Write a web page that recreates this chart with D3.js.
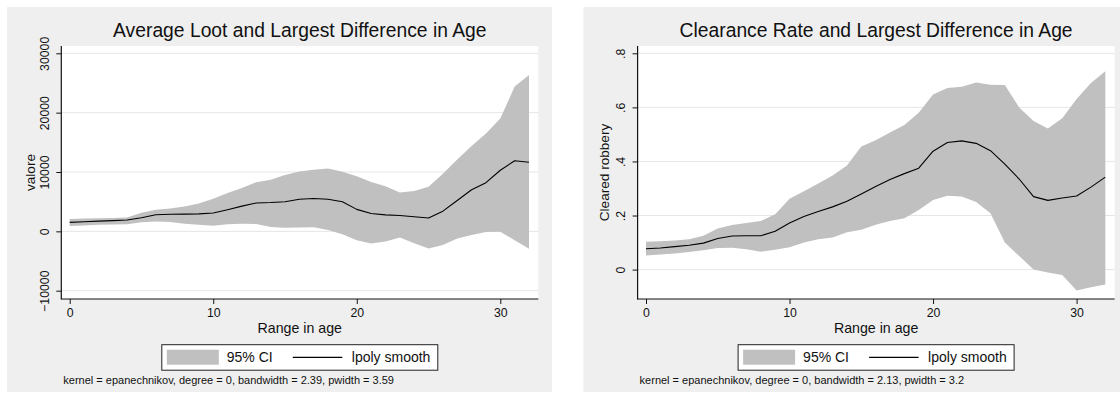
<!DOCTYPE html>
<html>
<head>
<meta charset="utf-8">
<script src="https://cdn.jsdelivr.net/npm/d3@7/dist/d3.min.js"></script>
<style>
  html, body { margin: 0; padding: 0; background: #ffffff; }
  svg { display: block; }
  text { font-family: "Liberation Sans", Arial, Helvetica, sans-serif; fill: #111; }
</style>
</head>
<body>
<svg id="chart" width="1120" height="401"></svg>
<script>
// Evaluation grid of the local polynomial smooth (age range, years)
const ageGrid = [0, 1, 2, 3, 4, 5, 6, 7, 8, 9, 10, 11, 12, 13, 14, 15, 16,
                 17, 18, 19, 20, 21, 22, 23, 24, 25, 26, 27, 28, 29, 30, 31, 32];

// Average loot (valore): smooth and 95% confidence band
const lootSmooth = [1520, 1620, 1720, 1800, 1920, 2300, 2800, 2880, 2900, 2950, 3080,
                    3650, 4250, 4780, 4860, 5000, 5400, 5540, 5420, 5000, 3700,
                    3000, 2780, 2680, 2450, 2250, 3400, 5200, 7000, 8200, 10300, 11900, 11650];
const lootUpper  = [2090, 2150, 2200, 2260, 2330, 3150, 3650, 3870, 4200, 4700, 5500,
                    6450, 7300, 8280, 8700, 9500, 10100, 10400, 10600, 10050, 9300,
                    8300, 7600, 6550, 6800, 7500, 9700, 12100, 14400, 16500, 19000, 24400, 26330];
const lootLower  = [900, 1000, 1100, 1150, 1200, 1530, 1650, 1560, 1300, 1100, 960,
                    1190, 1300, 1250, 750, 620, 640, 680, 230, -500, -1500,
                    -2030, -1700, -1050, -2000, -2900, -2300, -1200, -600, -130, -50, -1500, -2940];

// Clearance rate (cleared robbery): smooth and 95% confidence band
const clearSmooth = [0.077, 0.080, 0.085, 0.090, 0.098, 0.115, 0.124, 0.125, 0.125, 0.142, 0.172,
                     0.196, 0.215, 0.232, 0.253, 0.280, 0.307, 0.333, 0.355, 0.375, 0.438,
                     0.470, 0.476, 0.467, 0.440, 0.390, 0.335, 0.270, 0.256, 0.265, 0.272, 0.305, 0.342];
const clearUpper  = [0.103, 0.105, 0.108, 0.112, 0.125, 0.152, 0.165, 0.172, 0.180, 0.205, 0.262,
                     0.290, 0.318, 0.348, 0.385, 0.455, 0.478, 0.507, 0.535, 0.580, 0.648,
                     0.672, 0.676, 0.692, 0.684, 0.683, 0.600, 0.550, 0.522, 0.560, 0.631, 0.690, 0.734];
const clearLower  = [0.052, 0.056, 0.060, 0.065, 0.072, 0.080, 0.081, 0.075, 0.066, 0.073, 0.083,
                     0.100, 0.112, 0.119, 0.138, 0.147, 0.166, 0.180, 0.190, 0.220, 0.257,
                     0.273, 0.270, 0.250, 0.208, 0.100, 0.050, 0.000, -0.011, -0.020, -0.077, -0.065, -0.055];

// Axis ticks and labels
const ageTicks = [0, 10, 20, 30];
const lootTicks = [-10000, 0, 10000, 20000, 30000];
const lootTickLabels = ["\u221210000", "0", "10000", "20000", "30000"];
const clearTicks = [0, 0.2, 0.4, 0.6, 0.8];
const clearTickLabels = ["0", ".2", ".4", ".6", ".8"];

// Legend entries
const legendLabels = ["95% CI", "lpoly smooth"];

const panels = [
  {
    left: 7,
    title: "Average Loot and Largest Difference in Age",
    yTitle: "valore",
    smooth: lootSmooth, upper: lootUpper, lower: lootLower,
    yTicks: lootTicks, yTickLabels: lootTickLabels,
    yDomain: [-10000, 30000], yRange: [290.7, 53.3],
    note: "kernel = epanechnikov, degree = 0, bandwidth = 2.39, pwidth = 3.59",
    yTitleOffset: 31
  },
  {
    left: 583.3,
    title: "Clearance Rate and Largest Difference in Age",
    yTitle: "Cleared robbery",
    smooth: clearSmooth, upper: clearUpper, lower: clearLower,
    yTicks: clearTicks, yTickLabels: clearTickLabels,
    yDomain: [0, 0.8], yRange: [269.6, 53.3],
    note: "kernel = epanechnikov, degree = 0, bandwidth = 2.13, pwidth = 3.2",
    yTitleOffset: 33
  }
];

const svg = d3.select("#chart");
const BAND = "#c0c0c0";
const PANEL_BG = "#efefef";
const GRID = "#e6e6e6";

panels.forEach(p => {
  const g = svg.append("g").attr("transform", `translate(${p.left},0)`);

  // panel geometry (local to the panel)
  const panelW = 545, panelTop = 7, panelH = 385;
  const plotL = 54.3, plotR = 531.3, plotT = 46, plotB = 299;

  g.append("rect")
    .attr("x", 0).attr("y", panelTop)
    .attr("width", panelW).attr("height", panelH)
    .attr("fill", PANEL_BG);

  g.append("rect")
    .attr("x", plotL).attr("y", plotT)
    .attr("width", plotR - plotL).attr("height", plotB - plotT)
    .attr("fill", "#ffffff");

  const x = d3.scaleLinear().domain([0, 30]).range([62.7, 493.3]);
  const y = d3.scaleLinear().domain(p.yDomain).range(p.yRange);

  // horizontal grid lines
  g.append("g")
    .selectAll("line")
    .data(p.yTicks)
    .join("line")
    .attr("x1", plotL).attr("x2", plotR)
    .attr("y1", d => y(d)).attr("y2", d => y(d))
    .attr("stroke", GRID).attr("stroke-width", 1);

  // confidence band
  const rows = ageGrid.map((a, i) => ({ a, s: p.smooth[i], hi: p.upper[i], lo: p.lower[i] }));
  g.append("path")
    .datum(rows)
    .attr("d", d3.area().x(d => x(d.a)).y0(d => y(d.lo)).y1(d => y(d.hi)))
    .attr("fill", BAND);

  // smooth
  g.append("path")
    .datum(rows)
    .attr("d", d3.line().x(d => x(d.a)).y(d => y(d.s)))
    .attr("fill", "none")
    .attr("stroke", "#000")
    .attr("stroke-width", 1.1)
    .attr("stroke-linejoin", "round");

  // y axis
  const yAxis = g.append("g")
    .attr("transform", `translate(${plotL},0)`)
    .call(d3.axisLeft(y).tickValues(p.yTicks).tickSize(5).tickSizeOuter(0)
      .tickFormat((d, i) => p.yTickLabels[i]));
  yAxis.select(".domain").remove();
  yAxis.selectAll(".tick line").attr("stroke", "#111");
  yAxis.selectAll(".tick text")
    .attr("transform", "rotate(-90)")
    .attr("x", 0).attr("y", -12.8).attr("dy", 0)
    .attr("text-anchor", "middle")
    .style("font-size", "12.3px")
    .style("font-family", "'Liberation Sans', Arial, sans-serif")
    .attr("fill", "#111");

  // x axis
  const xAxis = g.append("g")
    .attr("transform", `translate(0,${plotB})`)
    .call(d3.axisBottom(x).tickValues(ageTicks).tickSize(5).tickSizeOuter(0));
  xAxis.select(".domain").remove();
  xAxis.selectAll(".tick line").attr("stroke", "#111");
  xAxis.selectAll(".tick text")
    .attr("y", 18.3).attr("dy", 0)
    .style("font-size", "12.3px")
    .style("font-family", "'Liberation Sans', Arial, sans-serif")
    .attr("fill", "#111");

  // axis lines
  g.append("line")
    .attr("x1", plotL).attr("x2", plotL).attr("y1", plotT).attr("y2", plotB + 0.5)
    .attr("stroke", "#111").attr("stroke-width", 1.2);
  g.append("line")
    .attr("x1", plotL).attr("x2", plotR).attr("y1", plotB).attr("y2", plotB)
    .attr("stroke", "#111").attr("stroke-width", 1.2);

  const cx = (plotL + plotR) / 2;

  // titles
  g.append("text")
    .attr("x", cx).attr("y", 36.5)
    .attr("text-anchor", "middle")
    .style("font-size", "19.3px")
    .text(p.title);

  g.append("text")
    .attr("x", cx).attr("y", 332.5)
    .attr("text-anchor", "middle")
    .style("font-size", "14.2px")
    .text("Range in age");

  g.append("text")
    .attr("transform", `translate(${plotL - p.yTitleOffset + 4.8},${(plotT + plotB) / 2}) rotate(-90)`)
    .attr("text-anchor", "middle")
    .style("font-size", "13.6px")
    .text(p.yTitle);

  // legend
  const lg = g.append("g").attr("transform", `translate(${cx - 138},344.7)`);
  lg.append("rect")
    .attr("x", 0).attr("y", 0).attr("width", 276).attr("height", 25.5)
    .attr("fill", "#fff").attr("stroke", "#222").attr("stroke-width", 1);
  lg.append("rect")
    .attr("x", 5).attr("y", 5).attr("width", 52).attr("height", 15)
    .attr("fill", BAND);
  lg.append("text")
    .attr("x", 65).attr("y", 17.7)
    .style("font-size", "14px")
    .text(legendLabels[0]);
  lg.append("line")
    .attr("x1", 131).attr("x2", 180.5).attr("y1", 12.7).attr("y2", 12.7)
    .attr("stroke", "#000").attr("stroke-width", 1.1);
  lg.append("text")
    .attr("x", 190).attr("y", 17.7)
    .style("font-size", "14px")
    .text(legendLabels[1]);

  // kernel note
  g.append("text")
    .attr("x", plotL + 2).attr("y", 384)
    .style("font-size", "11px")
    .text(p.note);
});
</script>
</body>
</html>
